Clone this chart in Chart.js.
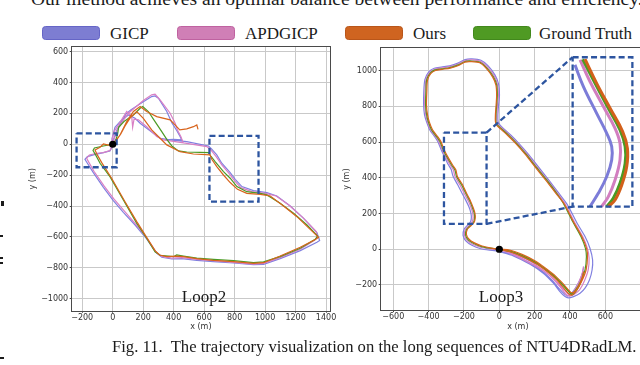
<!DOCTYPE html>
<html>
<head>
<meta charset="utf-8">
<title>Trajectory visualization</title>
<script src="https://cdn.jsdelivr.net/npm/chart.js@4.4.1/dist/chart.umd.min.js"></script>
<style>
html,body{margin:0;padding:0;background:#fff;}
body{width:640px;height:365px;overflow:hidden;position:relative;}
canvas{position:absolute;}
.t{position:absolute;white-space:nowrap;font-family:"Liberation Serif","Times New Roman",serif;color:#1b1b1b;font-size:17px;line-height:17px;}
.lb{position:absolute;width:58px;height:14px;border-radius:3.5px;box-sizing:border-box;}
.mk{position:absolute;background:#1b1b1b;}
</style>
</head>
<body>
<div id="topline" class="t" style="left:31px;top:-9px"></div>

<div class="lb" style="left:42px;top:26px;background:#7d7dd2;border:1px solid #6565c6"></div>
<div class="t" style="left:110px;top:24.5px">GICP</div>
<div class="lb" style="left:177px;top:26px;background:#d07fb6;border:1px solid #bf62a0"></div>
<div class="t" style="left:245px;top:24.5px">APDGICP</div>
<div class="lb" style="left:345px;top:26px;background:#cf6420;border:1px solid #b9561a"></div>
<div class="t" style="left:413px;top:24.5px">Ours</div>
<div class="lb" style="left:473px;top:26px;background:#4f9a23;border:1px solid #42881c"></div>
<div class="t" style="left:539px;top:24.5px">Ground Truth</div>

<canvas id="loop2" width="345" height="300" style="left:0;top:40px;width:345px;height:300px"></canvas>
<canvas id="loop3" width="330" height="300" style="left:340px;top:40px;width:330px;height:300px"></canvas>

<div class="t" style="left:204px;top:287.8px;transform:translateX(-50%)">Loop2</div>
<div class="t" style="left:501px;top:288px;transform:translateX(-50%)">Loop3</div>
<div id="caption" class="t" style="left:112px"></div>

<div class="mk" style="left:1px;top:201px;width:3px;height:5px"></div>
<div class="mk" style="left:0;top:235px;width:3px;height:1.5px"></div>
<div class="mk" style="left:0;top:257px;width:3px;height:1.5px"></div>
<div class="mk" style="left:0;top:262px;width:3px;height:1.5px"></div>
<div class="mk" style="left:0;top:357px;width:4px;height:1.5px"></div>

<script>
// ---------------- data ----------------
const seriesNames = ['GICP', 'APDGICP', 'Ours', 'Ground Truth'];

const loop2XTicks = [-200, 0, 200, 400, 600, 800, 1000, 1200, 1400];
const loop2YTicks = [-1000, -800, -600, -400, -200, 0, 200, 400, 600];
const loop3XTicks = [-600, -400, -200, 0, 200, 400, 600];
const loop3YTicks = [-200, 0, 200, 400, 600, 800, 1000];

// Loop2 trajectories [x (m), y (m)]
const loop2Gicp = [[0,0],[-4,39],[15,110],[48,147],[103,190],[147,168],[180,136],[267,71],[311,39],[377,28],[486,17],[629,-11],
 [650,-32],[683,-69],[716,-123],[771,-184],[804,-227],[848,-274],[924,-300],[1012,-313],[1077,-335],[1165,-400],[1253,-480],[1340,-572],[1358,-624],[1340,-635],[1231,-689],[1099,-741],[990,-778],[924,-780],[793,-769],[661,-760],[552,-752],[453,-741],[388,-743],[322,-732],[285,-702],[223,-613],[147,-523],[70,-441],[4,-365],[-61,-279],[-127,-184],[-166,-123],[-182,-97],[-166,-80],[-127,-69],[-61,-54],[-18,-43],[-2,-15],
 [4,28],[26,89],[53,140],[88,197],[118,222],[201,276],[256,309],[278,313],[300,298],[355,212],[388,140],[420,89],[442,50],[453,28],[399,32],[344,28]];
const loop2Apd = [[0,0],[-4,28],[9,82],[37,125],[92,212],[125,179],[131,110],[140,162],[169,158],[223,114],[289,50],[333,28],[410,17],[486,6],[618,-15],
 [644,-37],[679,-80],[716,-134],[766,-192],[799,-235],[841,-281],[913,-307],[1001,-318],[1073,-335],[1160,-397],[1248,-475],[1336,-566],[1345,-603],[1327,-620],[1231,-680],[1099,-734],[990,-771],[924,-776],[793,-765],[661,-754],[552,-745],[453,-734],[388,-737],[322,-726],[285,-698],[223,-607],[147,-512],[74,-430],[9,-356],[-57,-270],[-123,-175],[-158,-114],[-171,-91],[-153,-69],[-105,-58],[-61,-54],[-18,-41],[-4,-11],
 [9,32],[31,93],[59,140],[103,201],[201,283],[256,320],[278,324],[311,287],[377,201],[410,136],[425,93],[447,50],[464,6]];
const loop2Ours = [[0,0],[26,28],[53,67],[81,119],[118,175],[158,212],[201,168],[256,93],[311,39],[355,-4],[442,-48],[530,-63],[639,-69],
 [650,-97],[683,-145],[727,-199],[771,-248],[819,-292],[880,-318],[968,-324],[1034,-335],[1121,-400],[1209,-469],[1296,-551],[1351,-603],[1323,-620],[1231,-667],[1099,-724],[990,-767],[924,-771],[793,-760],[661,-752],[552,-741],[464,-728],[420,-724],[355,-728],[307,-717],[278,-689],[223,-603],[158,-501],[81,-372],[-7,-220],[-72,-119],[-101,-69],[-116,-37],[-83,-19],[-61,2],[-28,-6],[0,0],
 [15,17],[48,60],[92,147],[136,212],[180,244],[223,212],[289,179],[377,158],[420,114],[440,93],[486,100],[530,114],[552,125],[560,97]];
const loop2Gt = [[0,0],[20,28],[31,60],[39,110],[74,147],[136,190],[180,233],[197,244],[234,212],[278,147],[322,82],[355,32],[388,-11],[431,-43],[486,-50],[574,-52],[629,-54],
 [644,-76],[672,-112],[727,-177],[771,-220],[815,-274],[880,-307],[968,-318],[1012,-328],[1099,-382],[1187,-447],[1275,-523],[1345,-594],[1329,-616],[1231,-674],[1099,-728],[990,-762],[924,-767],[793,-754],[661,-745],[552,-737],[464,-724],[420,-717],[399,-728],[311,-719],[278,-696],[223,-609],[158,-512],[70,-361],[-18,-210],[-83,-123],[-112,-69],[-129,-41],[-120,-24],[-61,-11],[0,0]];

// Loop3 trajectories
const loop3Gicp = [[0,-10],[-55,-5],[-105,3],[-155,22],[-188,45],[-205,78],[-198,115],[-178,136],[-162,155],[-158,180],[-162,208],[-172,238],[-190,275],[-210,312],[-236,362],[-262,410],[-272,446],[-290,476],[-312,522],[-330,560],[-348,603],[-367,632],[-393,668],[-412,715],[-423,752],[-428,808],[-427,883],[-421,950],[-400,992],[-368,1013],[-328,1020],[-281,1027],[-234,1042],[-194,1062],[-155,1066],[-104,1058],[-63,1027],[-24,975],[-4,925],[1,864],[-4,808],[-8,752],[-7,715],[2,698],[28,672],[66,638],[113,590],[170,526],[207,479],[287,378],[340,310],[385,250],[438,150],[485,71],[513,6],[528,-60],[525,-116],[510,-172],[485,-218],[457,-246],[420,-265],[390,-272],[372,-265],[343,-237],[306,-190],[249,-134],[174,-84],[79,-37],[0,-13],
 [75,-28],[165,-72],[240,-120],[300,-175],[340,-222],[370,-252],[385,-262],[405,-250],[430,-218],[455,-175],[470,-135],[478,-97]];
const loop3Apd = [[0,-4],[-54,2],[-102,10],[-150,28],[-181,48],[-197,79],[-191,113],[-171,133],[-154,152],[-148,177],[-151,205],[-160,234],[-176,271],[-196,308],[-223,361],[-251,408],[-260,445],[-279,474],[-305,520],[-324,558],[-342,603],[-361,631],[-388,668],[-407,715],[-416,752],[-422,808],[-420,883],[-415,949],[-396,988],[-366,1008],[-327,1015],[-280,1022],[-233,1037],[-194,1056],[-156,1060],[-106,1052],[-68,1022],[-29,971],[-10,922],[-5,864],[-10,808],[-14,752],[-13,715],[-4,697],[20,673],[58,639],[105,591],[162,527],[199,480],[276,384],[328,316],[372,254],[425,153],[472,71],[498,6],[508,-48],[503,-116],[482,-176],[455,-226],[425,-252],[400,-262],[380,-255],[352,-220],[315,-176],[258,-126],[182,-82],[100,-40],[45,-17],[0,-4],
 [68,-20],[150,-55],[226,-100],[286,-146],[336,-193],[372,-232],[393,-252],[410,-248],[436,-212],[458,-165],[472,-125],[476,-97]];
const loop3Ours = [[0,0],[-52,8],[-98,18],[-144,37],[-171,56],[-186,82],[-180,113],[-161,131],[-143,150],[-136,175],[-138,203],[-147,231],[-162,268],[-181,305],[-208,361],[-237,408],[-246,445],[-265,473],[-293,520],[-312,557],[-331,604],[-350,632],[-378,669],[-397,716],[-406,752],[-412,808],[-410,883],[-406,947],[-388,983],[-361,1001],[-324,1007],[-278,1014],[-231,1029],[-194,1048],[-158,1050],[-111,1044],[-75,1014],[-38,965],[-19,919],[-15,864],[-18,808],[-22,752],[-22,715],[-14,694],[10,671],[48,637],[95,590],[152,525],[189,478],[265,384],[318,316],[366,256],[420,153],[468,69],[494,4],[499,-43],[491,-116],[465,-182],[435,-233],[410,-256],[395,-252],[368,-222],[330,-176],[272,-126],[214,-84],[138,-45],[62,-14],[0,0],
 [58,-4],[132,-30],[206,-67],[264,-108],[320,-152],[358,-190],[388,-224],[406,-243],[428,-236],[450,-203],[467,-165],[478,-125]];
const loop3Gt = [[0,0],[-53,6],[-100,15],[-147,34],[-175,52],[-191,80],[-185,112],[-166,131],[-147,149],[-140,174],[-142,202],[-151,230],[-166,267],[-185,304],[-213,360],[-242,407],[-251,444],[-270,472],[-298,519],[-317,556],[-336,603],[-355,631],[-383,668],[-402,715],[-411,752],[-417,808],[-415,883],[-411,948],[-392,985],[-364,1004],[-326,1010],[-279,1017],[-232,1032],[-194,1051],[-157,1054],[-109,1047],[-72,1017],[-34,967],[-15,920],[-11,864],[-15,808],[-19,752],[-19,715],[-11,696],[13,674],[51,640],[98,593],[155,528],[192,481],[268,388],[320,320],[362,258],[415,155],[462,71],[487,6],[493,-41],[485,-116],[460,-180],[430,-230],[410,-250],[391,-231],[362,-200],[325,-162],[268,-116],[211,-75],[136,-37],[60,-9],[0,0],
 [62,-14],[140,-44],[215,-84],[275,-125],[330,-172],[368,-210],[395,-240],[412,-255],[430,-240],[452,-205],[468,-165],[478,-125]];

// Loop3 magnified inset curves (drawn in the inset frame)
const insetGicp = [[428,1032],[476,911],[551,761],[608,649],[636,575],[636,500],[608,407],[560,313],[513,239]];
const insetApd  = [[457,1060],[513,939],[589,799],[655,677],[683,593],[683,500],[655,388],[617,295],[579,239]];
const insetGt   = [[472,1064],[542,929],[617,789],[683,668],[712,575],[712,481],[683,369],[645,285],[608,239]];
const insetOurs = [[485,1064],[551,929],[627,789],[698,659],[725,565],[721,463],[693,360],[655,276],[617,239]];

// zoom regions [x0, y0, x1, y1] in metres
const loop2Boxes = [[-237,71,26,-149],[635,54,957,-372]];
const loop3SmallBox = [-313,653,-72,142];
const loop3InsetBox = [415,1075,753,239];
const loop3Connectors = [[[-72,653],[415,1075]], [[-72,142],[415,239]]];
const startPoint = [[0,0]];

// ---------------- helpers ----------------
const COL = {gicp:'#8080e0', apd:'#d97fc4', ours:'#d8641c', gt:'#4a9a24'};
const INSET = {gicp:'#7c7cd8', apd:'#d27ec0', ours:'#d2601a', gt:'#4a9a24'};
const BOXC = '#2d55a0';

function lineDs(label, data, color, width, tension) {
  return {label, data, showLine:true, borderColor:color, backgroundColor:color, borderWidth:width,
          pointRadius:0, pointHoverRadius:0, fill:false, tension:tension || 0};
}
function rectPts(r) { return [[r[0],r[1]],[r[2],r[1]],[r[2],r[3]],[r[0],r[3]],[r[0],r[1]]]; }
function dashDs(data) {
  return {label:'zoom', data, showLine:true, borderColor:BOXC, borderWidth:2.3, borderDash:[6,3.2],
          pointRadius:0, fill:false, tension:0};
}
function dotDs() {
  return {label:'start', data:startPoint, showLine:false, pointRadius:3.6, pointBackgroundColor:'#000',
          pointBorderColor:'#000', pointBorderWidth:0};
}
const fmt = v => (v < 0 ? '\u2212' + Math.abs(v) : String(v));
const tickFont = {family:'"DejaVu Sans", sans-serif', size:8};

const framePlugin = {
  id:'frame',
  afterDatasetsDraw(chart) {
    const a = chart.chartArea, c = chart.ctx;
    c.save();
    c.strokeStyle = '#4a4a4a'; c.lineWidth = 1;
    c.strokeRect(Math.round(a.left) - 0.5, Math.round(a.top) - 0.5,
                 Math.round(a.right - a.left) + 1, Math.round(a.bottom - a.top) + 1);
    c.restore();
  }
};

function makeChart(id, o) {
  const grid = {color:'#c9c9c9', lineWidth:1, tickLength:2, tickColor:'#444', drawTicks:true};
  return new Chart(document.getElementById(id), {
    type:'scatter',
    data:{datasets:o.datasets},
    options:{
      responsive:false, animation:false, devicePixelRatio:1,
      layout:{padding:o.padding, autoPadding:false},
      plugins:{legend:{display:false}, tooltip:{enabled:false}},
      scales:{
        x:{type:'linear', position:'bottom', min:o.xmin, max:o.xmax,
           afterBuildTicks:s => { s.ticks = o.xticks.map(v => ({value:v})); },
           afterFit:s => { s.height = o.xAxisH; },
           grid, border:{display:false},
           ticks:{font:tickFont, color:'#333', padding:0, maxRotation:0, autoSkip:false, callback:fmt},
           title:{display:true, text:'x (m)', font:tickFont, color:'#333', padding:{top:0, bottom:o.xTitlePad}}},
        y:{type:'linear', position:'left', min:o.ymin, max:o.ymax,
           afterBuildTicks:s => { s.ticks = o.yticks.map(v => ({value:v})); },
           afterFit:s => { s.width = o.yAxisW; },
           grid, border:{display:false},
           ticks:{font:tickFont, color:'#333', padding:1.5, autoSkip:false, callback:fmt},
           title:{display:true, text:'y (m)', font:tickFont, color:'#333', padding:{top:o.yTitlePad, bottom:0}}}
      }
    },
    plugins:[framePlugin]
  });
}

// ---------------- Loop2 ----------------
makeChart('loop2', {
  xmin:-269, xmax:1426, ymin:-1078, ymax:630,
  xticks:loop2XTicks, yticks:loop2YTicks,
  padding:{left:20, top:7, right:15, bottom:0},
  yAxisW:51.7, xAxisH:29.3, xTitlePad:8.2, yTitlePad:8.2,
  datasets:[
    dotDs(),
    ...loop2Boxes.map(b => dashDs(rectPts(b))),
    lineDs(seriesNames[2], loop2Ours, COL.ours, 1.2),
    lineDs(seriesNames[3], loop2Gt, COL.gt, 1.2),
    lineDs(seriesNames[1], loop2Apd, COL.apd, 1.2),
    lineDs(seriesNames[0], loop2Gicp, COL.gicp, 1.2)
  ]
});

// ---------------- Loop3 ----------------
makeChart('loop3', {
  xmin:-671, xmax:881, ymin:-340, ymax:1125,
  xticks:loop3XTicks, yticks:loop3YTicks,
  padding:{left:0, top:8.3, right:15, bottom:0},
  yAxisW:40.7, xAxisH:30, xTitlePad:8.2, yTitlePad:1.9,
  datasets:[
    dotDs(),
    dashDs(rectPts(loop3SmallBox)),
    dashDs(rectPts(loop3InsetBox)),
    ...loop3Connectors.map(c => dashDs(c)),
    lineDs(seriesNames[2], insetOurs, INSET.ours, 3, 0.4),
    lineDs(seriesNames[3], insetGt, INSET.gt, 3, 0.4),
    lineDs(seriesNames[1], insetApd, INSET.apd, 3, 0.4),
    lineDs(seriesNames[0], insetGicp, INSET.gicp, 3, 0.4),
    lineDs(seriesNames[2], loop3Ours, COL.ours, 1.2, 0.25),
    lineDs(seriesNames[3], loop3Gt, COL.gt, 1.2, 0.25),
    lineDs(seriesNames[1], loop3Apd, COL.apd, 1.2, 0.25),
    lineDs(seriesNames[0], loop3Gicp, COL.gicp, 1.2, 0.25)
  ]
});

// ---------------- text fitting ----------------
function fitText(id, text, width, baseline) {
  const el = document.getElementById(id);
  el.textContent = text;
  const c = document.createElement('canvas').getContext('2d');
  c.font = '20px "Liberation Serif"';
  const s = 20 * width / c.measureText(text).width;
  el.style.fontSize = s + 'px';
  el.style.lineHeight = s + 'px';
  el.style.top = (baseline - 0.8375 * s) + 'px';
}
fitText('caption', 'Fig. 11.\u00a0 The trajectory visualization on the long sequences of NTU4DRadLM.', 525, 353);
fitText('topline', 'Our method achieves an optimal balance between performance and efficiency.', 612, 5);
</script>
</body>
</html>
